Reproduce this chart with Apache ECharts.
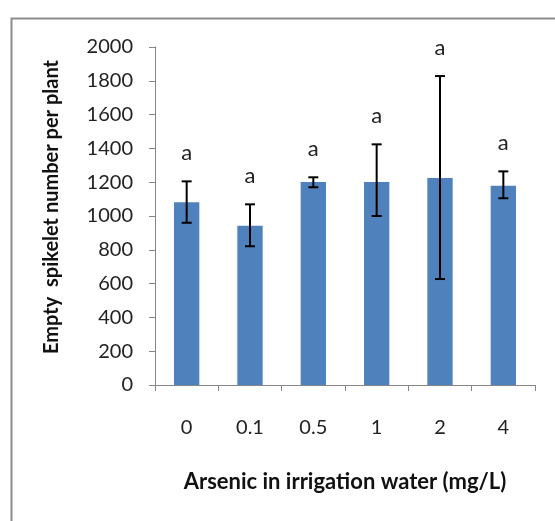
<!DOCTYPE html>
<html><head><meta charset="utf-8">
<script src="https://cdn.jsdelivr.net/npm/echarts@6/dist/echarts.min.js"></script>
<style>html,body{margin:0;padding:0;background:#fff}#c{width:555px;height:521px}</style>
</head><body><div id="c"></div>
<script>
const categories = ['0', '0.1', '0.5', '1', '2', '4'];
const means = [1081, 943, 1201, 1201, 1225, 1179];
const errHigh = [1205, 1069, 1229, 1424, 1828, 1264];
const errLow = [960, 821, 1170, 1000, 627, 1105];
const letters = ['a', 'a', 'a', 'a', 'a', 'a'];
const yTicks = [0, 200, 400, 600, 800, 1000, 1200, 1400, 1600, 1800, 2000];

const FONT = 'Lato';
const chart = echarts.init(document.getElementById('c'));
const errData = categories.map((c, i) => [i, errLow[i], errHigh[i], letters[i]]);
chart.setOption({
  animation: false,
  backgroundColor: '#fff',
  graphic: [{
    type: 'rect', left: 9, top: 16, shape: {width: 600, height: 600},
    style: {fill: 'none', stroke: '#8c8c8c', lineWidth: 2}, silent: true
  }],
  grid: {left: 155, right: 20, top: 47, bottom: 136},
  xAxis: {
    type: 'category', data: categories,
    axisLine: {lineStyle: {color: '#868686', width: 1}},
    axisTick: {show: true, length: 6, alignWithLabel: false, lineStyle: {color: '#868686'}},
    axisLabel: {color: '#222', fontFamily: FONT, fontSize: 20, margin: 33},
    name: 'Arsenic in irrigation water (mg/L)', nameLocation: 'middle', nameGap: 86,
    nameTextStyle: {color: '#111', fontFamily: FONT, fontSize: 22, fontWeight: 'bold'}
  },
  yAxis: {
    type: 'value', min: yTicks[0], max: yTicks[yTicks.length - 1], interval: 200,
    splitLine: {show: false},
    axisLine: {show: true, lineStyle: {color: '#868686', width: 1}},
    axisTick: {show: true, length: 6, inside: false, lineStyle: {color: '#868686'}},
    axisLabel: {color: '#222', fontFamily: FONT, fontSize: 20, margin: 22, formatter: v => String(v)},
    name: 'Empty  spikelet number per plant', nameLocation: 'middle', nameGap: 93, nameRotate: 90,
    nameTextStyle: {color: '#111', fontFamily: FONT, fontSize: 20, fontWeight: 'bold', padding: [0, 0, 0, 18]}
  },
  series: [{
    type: 'bar', data: means, barWidth: '40%',
    itemStyle: {color: '#4f81bd'}
  }, {
    type: 'custom', data: errData, z: 10,
    renderItem: function (params, api) {
      const x = api.value(0);
      const lo = api.coord([x, api.value(1)]);
      const hi = api.coord([x, api.value(2)]);
      const hw = 5;
      const st = {stroke: '#000', lineWidth: 2};
      return {type: 'group', children: [
        {type: 'line', shape: {x1: lo[0], y1: lo[1], x2: hi[0], y2: hi[1]}, style: st},
        {type: 'line', shape: {x1: lo[0] - hw, y1: lo[1], x2: lo[0] + hw, y2: lo[1]}, style: st},
        {type: 'line', shape: {x1: hi[0] - hw, y1: hi[1], x2: hi[0] + hw, y2: hi[1]}, style: st},
        {type: 'text', style: {text: api.value(3), x: hi[0], y: hi[1] - 28, align: 'center', verticalAlign: 'middle',
          fill: '#222', font: '22px ' + FONT}}
      ]};
    }
  }]
});
</script></body></html>
